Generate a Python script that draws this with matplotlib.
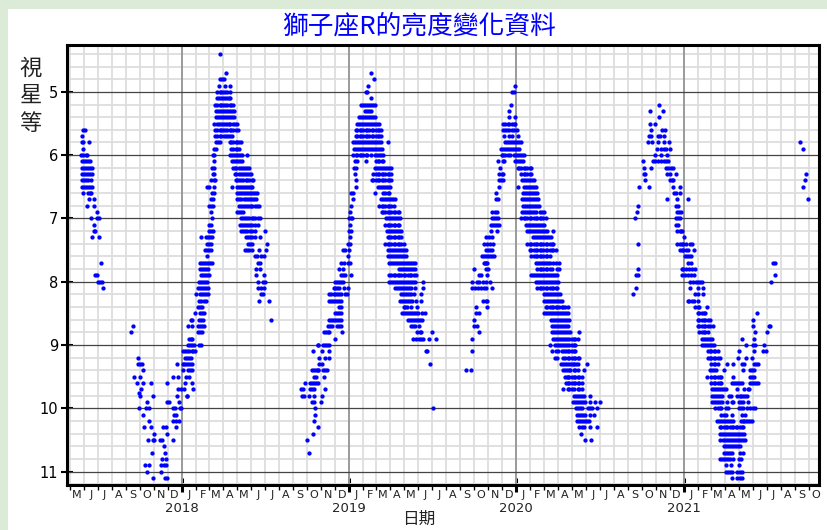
import numpy as np
import matplotlib
matplotlib.use('Agg')
import matplotlib.pyplot as plt
import matplotlib.dates as mdates
from matplotlib.patches import Rectangle
from matplotlib.ticker import MultipleLocator, NullFormatter

# ---------------- data: (magnitude, [days since 2017-01-01]) ----------------
EPOCH = np.datetime64('2017-01-01')

cycle_2017 = [
    (5.6, [149, 153]), (5.7, [147]), (5.8, [147, 150, 162]), (5.9, [149]),
    (6.0, [145, 150, 155, 158]), (6.1, [147, 151, 155, 160, 164]),
    (6.2, [147, 151, 155, 160, 164, 169]), (6.3, [147, 151, 155, 160, 164, 169]),
    (6.4, [147, 151, 155, 160, 167]), (6.5, [147, 151, 155, 160, 164, 169]),
    (6.6, [150, 160, 164, 167]), (6.7, [163, 172]), (6.8, [157, 173]), (6.9, [179]),
    (7.0, [166, 179, 183]), (7.1, [172]), (7.2, [172, 176]), (7.3, [169, 184]),
    (7.7, [188]), (7.9, [176, 180]), (8.0, [182, 186, 190]), (8.1, [193]),
]

cycle_2018 = [
    # late-2017 minimum, fading side
    (8.7, [259]), (8.8, [253]), (9.2, [270]), (9.3, [268, 273, 278]), (9.4, [281]),
    (9.5, [260, 273]), (9.6, [266, 281, 297]), (9.7, [275]), (9.75, [271]),
    (9.8, [273, 301]), (9.9, [288]), (10.0, [272, 286, 292]), (10.1, [279]),
    (10.2, [294]), (10.3, [282, 298]), (10.4, [304]), (10.5, [291, 301, 304]),
    (10.7, [300]), (10.9, [285, 294]), (11.0, [289]), (11.1, [301]),
    # rising side
    (9.6, [332]), (9.5, [345, 356]), (9.3, [355, 367]), (9.4, [368]),
    (9.7, [356, 362, 370]), (9.8, [355, 375]), (9.9, [333, 337, 359]),
    (10.0, [345, 349, 361, 364]), (10.1, [348, 352]), (10.2, [346, 352, 359]),
    (10.3, [323, 330, 352]), (10.4, [333]), (10.5, [316, 321, 345]), (10.6, [326]),
    (10.7, [327]), (10.8, [321, 330]), (10.9, [320, 326, 330]), (11.0, [319]),
    (11.1, [329, 333]),
    (9.1, [368, 372, 377, 381, 386, 390, 394]), (9.2, [371, 375, 380, 384]),
    (9.3, [370, 374, 378, 383, 387]), (9.4, [378, 383, 387]), (9.5, [374, 380]),
    (9.6, [371, 386]), (9.7, [390]), (9.8, [375]),
    (9.0, [378, 383, 387, 391, 403, 407]), (8.9, [380, 384, 388]),
    (8.8, [400, 404, 409]), (8.7, [378, 388, 400, 404, 409, 413]),
    (8.6, [384, 388, 403, 407, 412]), (8.5, [393, 404, 409, 413]),
    (8.4, [400, 404, 409]), (8.3, [403, 407, 413, 418]),
    (8.2, [396, 404, 409, 413, 418, 422]), (8.1, [400, 404, 409, 413, 418, 422]),
    (8.0, [403, 407, 412, 416, 420]), (7.9, [406, 410, 415, 419, 423]),
    (7.8, [404, 409, 413, 418, 422]), (7.7, [404, 409, 413, 418, 422, 426, 431]),
    (7.6, [420]), (7.5, [415, 420, 425, 429]), (7.4, [420, 425, 429]),
    (7.3, [406, 418, 422, 426, 431]), (7.2, [423, 428, 432]), (7.1, [425, 429]),
    (7.0, [431]), (6.9, [428]), (6.8, [423, 428, 432]), (6.7, [429, 432]),
    (6.6, [431, 435]), (6.5, [420, 425, 435]), (6.4, [429, 434, 438]),
    (6.3, [432, 436]), (6.2, [431, 435]), (6.1, [436]), (6.0, [432, 436]),
    (5.9, [436, 439]), (5.8, [439, 444, 448]),
    # maximum and decline
    (5.7, [438, 442, 447, 451, 457, 461, 466, 470, 474]),
    (5.6, [438, 442, 447, 451, 455, 460, 464, 469, 473, 477, 482, 487]),
    (5.5, [436, 441, 445, 450, 454, 458, 463, 467, 471, 476, 480, 485]),
    (5.4, [439, 444, 448, 453, 457, 461, 466, 470, 474, 479]),
    (5.3, [439, 444, 448, 453, 457, 461, 466, 470, 474, 479]),
    (5.2, [438, 442, 447, 451, 455, 460, 464, 469, 473, 477]),
    (5.1, [441, 445, 450, 454, 458, 463, 467, 471]),
    (5.0, [442, 447, 451, 455, 460, 464, 469]),
    (4.9, [445, 460, 469]), (4.8, [448, 453, 457]), (4.7, [461]), (4.4, [447]),
    (5.8, [469, 473, 477, 482, 486, 490, 493]), (5.9, [473, 477, 482, 486, 490]),
    (6.0, [470, 474, 479, 483, 487, 492, 496, 508]),
    (6.1, [474, 479, 483, 487, 492, 496]),
    (6.2, [476, 480, 484, 489, 493, 498, 502, 506, 511]),
    (6.3, [480, 484, 489, 493, 498, 502, 506, 511, 515]),
    (6.4, [482, 486, 490, 495, 499, 504, 508, 512, 517, 521]),
    (6.5, [474, 485, 489, 493, 498, 502, 506, 511, 515, 519]),
    (6.6, [486, 490, 495, 499, 503, 508, 512, 516, 521, 524, 528]),
    (6.7, [486, 490, 495, 500, 505, 509, 514, 518, 522, 527]),
    (6.8, [489, 493, 498, 502, 506, 511, 515, 519, 524, 528, 534]),
    (6.9, [486, 490, 495, 499]),
    (7.0, [493, 498, 502, 508, 512, 517, 521, 525, 530, 535]),
    (7.1, [492, 496, 501, 505, 509, 514, 519, 525, 530]),
    (7.2, [493, 498, 502, 506, 514, 519, 524, 546]),
    (7.3, [505, 509, 514, 519, 525, 535]), (7.4, [509, 514, 519, 550]),
    (7.5, [503, 508, 512, 517, 533, 549]), (7.6, [524, 528, 537, 544]),
    (7.7, [530, 535]), (7.8, [527, 535]), (7.9, [527, 544]), (8.0, [530, 541, 546]),
    (8.1, [530, 538, 544]), (8.2, [538, 543]), (8.3, [534, 556]), (8.6, [560]),
]

cycle_2019 = [
    # late-2018 minimum
    (9.0, [661]), (9.1, [651]), (9.2, [665]), (9.4, [649, 653, 658, 662]),
    (9.5, [653, 658]), (9.6, [633, 645, 649, 653, 658]),
    (9.7, [624, 629, 645, 649, 653]), (9.8, [627, 632, 642, 653]), (9.9, [649, 653]),
    (10.0, [656]), (10.1, [655]), (10.2, [653]), (10.3, [661]), (10.4, [652]),
    (10.5, [639]), (10.7, [643]),
    # rise
    (9.9, [668]), (9.8, [670]), (9.7, [677]), (9.6, [661]), (9.5, [675]),
    (9.4, [662, 672, 677, 681]), (9.3, [665, 670]), (9.2, [677, 686]), (9.1, [670, 687]),
    (9.0, [661, 672, 677, 681, 686]), (8.9, [700]), (8.8, [675, 680, 684, 687, 715]),
    (8.7, [684, 688, 693, 703, 707, 712]), (8.6, [686, 690, 694, 699, 703, 707, 712]),
    (8.5, [699, 703, 707, 712]), (8.4, [709, 713]),
    (8.3, [686, 690, 694, 699, 703, 707, 713]),
    (8.2, [687, 691, 696, 700, 704, 709, 713, 721, 725]),
    (8.1, [696, 700, 704, 709, 718, 728]), (8.0, [699, 703, 707, 712, 716]),
    (7.9, [712, 716, 721, 734]), (7.8, [709, 716]), (7.7, [713, 718, 732]),
    # maximum
    (4.7, [777]), (4.8, [785]), (4.9, [771]), (5.0, [766, 770]), (5.1, [777]),
    (5.2, [755, 760, 764, 769, 773, 777, 782, 786]), (5.3, [764, 769, 773, 777]),
    (5.4, [751, 755, 760, 764, 769, 773, 777, 782, 786]),
    (5.5, [747, 751, 755, 760, 764, 769, 773, 777, 782, 786, 790, 795]),
    (5.6, [744, 748, 753, 757, 761, 766, 770, 774, 779, 783, 788, 792, 796, 799]),
    (5.7, [744, 748, 753, 757, 761, 766, 770, 774, 779, 783, 788, 792, 796, 799]),
    (5.8, [738, 742, 747, 751, 755, 760, 764, 769, 773, 777, 782, 786, 790, 795, 799, 814]),
    (5.9, [741, 745, 750, 754, 758, 763, 767, 771, 776, 780, 785, 789, 793, 798, 802]),
    (6.0, [739, 744, 748, 753, 757, 761, 766, 770, 777, 786, 790, 795, 799, 804]),
    (6.1, [742, 747, 767, 788, 792, 796, 801, 805]),
    (6.2, [741, 745, 786, 790, 795, 799, 804, 808, 812, 817, 821]),
    (6.3, [742, 783, 788, 792, 796, 801, 805, 809, 814, 818, 822]),
    (6.4, [744, 779, 783, 788, 792, 796, 801, 805, 809, 814, 818, 822]),
    (6.5, [745, 793, 798, 802, 806, 811, 815, 820]),
    (6.6, [735, 738, 786, 805, 809, 814, 818]),
    (6.7, [738, 799, 804, 808, 812, 817, 821, 825, 830]),
    (6.8, [734, 796, 801, 805, 809, 814, 818, 822, 827]),
    (6.9, [732, 801, 805, 809, 814, 818, 822, 827, 831, 836, 840]),
    (7.0, [729, 734, 737, 811, 815, 820, 824, 828, 833, 837, 841]),
    (7.1, [732, 809, 814, 818, 822, 827, 831, 836, 840]),
    (7.2, [729, 734, 812, 816, 821, 825, 830, 834, 838, 843]),
    (7.3, [731, 814, 818, 822, 827, 831, 836, 840, 844]),
    (7.4, [728, 732, 809, 814, 818, 822, 827, 831, 836, 840, 844, 849]),
    (7.5, [716, 721, 729, 815, 820, 824, 828, 833, 837, 841, 846, 850, 855]),
    (7.6, [728, 815, 820, 824, 828, 833, 837, 841, 846, 850, 855]),
    (7.7, [728, 817, 821, 825, 830, 834, 838, 843, 847, 852, 856, 860, 865, 869, 873]),
    # decline
    (7.8, [838, 843, 847, 852, 856, 860, 865, 869, 873]),
    (7.9, [818, 822, 827, 831, 836, 840, 844, 849, 853, 858, 862, 866, 871, 875]),
    (8.0, [817, 821, 825, 830, 834, 838, 843, 847, 852, 856, 860, 865, 869, 873, 891]),
    (8.1, [830, 834, 838, 843, 847, 852, 856, 860, 865, 873, 891]),
    (8.2, [843, 847, 852, 856, 860, 865, 872, 886]),
    (8.3, [841, 846, 850, 854, 859, 863, 868, 876, 886]),
    (8.4, [849, 853, 857, 866, 879]),
    (8.5, [846, 850, 854, 859, 863, 868, 872, 876, 881, 889, 895]),
    (8.6, [859, 863, 868, 872, 876, 881, 885, 889]),
    (8.7, [865, 869, 873, 882]), (8.8, [879, 884, 888, 911]),
    (8.9, [870, 875, 882, 886, 892, 904, 920]),
    (9.1, [897, 901]), (9.3, [907]), (10.0, [914]),
]

cycle_2020 = [
    # rise
    (9.4, [986, 997]), (9.1, [999]), (8.9, [999]), (8.8, [1013]), (8.7, [1003, 1009]),
    (8.6, [1002]), (8.5, [1007, 1013]), (8.4, [1006, 1031]), (8.3, [1023, 1028, 1032]),
    (8.1, [999, 1004, 1012, 1018, 1025, 1028, 1042]),
    (8.0, [999, 1009, 1013, 1022, 1029, 1038]), (7.9, [1013, 1018, 1032]),
    (7.8, [1003, 1028, 1034]),
    # maximum
    (4.9, [1092]), (5.0, [1086, 1090]), (5.2, [1083]), (5.3, [1080]), (5.4, [1080, 1093]),
    (5.5, [1067, 1071, 1076, 1080, 1085, 1089, 1093]),
    (5.6, [1066, 1070, 1074, 1079, 1085, 1090, 1096]),
    (5.7, [1068, 1080, 1086, 1098]),
    (5.8, [1070, 1074, 1079, 1083, 1087, 1092, 1096, 1101, 1105]),
    (5.9, [1061, 1066, 1070, 1074, 1079, 1083, 1087, 1092, 1096, 1101]),
    (6.0, [1063, 1067, 1071, 1076, 1082, 1090, 1095, 1099, 1103, 1108, 1112]),
    (6.1, [1055, 1066, 1068, 1093, 1096, 1101, 1105, 1109]),
    (6.2, [1060, 1098, 1102, 1106, 1111, 1115, 1119, 1124, 1127]),
    (6.3, [1058, 1063, 1067, 1106, 1111, 1115, 1119, 1124, 1128]),
    (6.4, [1057, 1061, 1066, 1108, 1112, 1117, 1121, 1125, 1130, 1134]),
    (6.5, [1058, 1098, 1112, 1117, 1121, 1125, 1130, 1134, 1138]),
    (6.6, [1050, 1109, 1114, 1118, 1122, 1127, 1131, 1135, 1140]),
    (6.7, [1051, 1055, 1108, 1112, 1117, 1121, 1125, 1130, 1134, 1138, 1143]),
    (6.8, [1109, 1114, 1118, 1122, 1127, 1131, 1135, 1140, 1144]),
    (6.9, [1042, 1048, 1052, 1108, 1112, 1117, 1121, 1125, 1130, 1134, 1138, 1147, 1151, 1156]),
    (7.0, [1042, 1047, 1051, 1055, 1106, 1111, 1115, 1119, 1124, 1128, 1133, 1137, 1141,
           1146, 1150, 1154, 1159]),
    (7.1, [1039, 1044, 1048, 1052, 1057, 1117, 1121, 1125, 1130, 1134, 1138, 1143, 1147,
           1151, 1156]),
    (7.2, [1039, 1054, 1118, 1122, 1127, 1131, 1135, 1140, 1144, 1149, 1153, 1157, 1163, 1175]),
    (7.3, [1029, 1036, 1041, 1131, 1135, 1140, 1144, 1149, 1153, 1157, 1162, 1166, 1170]),
    (7.4, [1025, 1031, 1038, 1044, 1119, 1124, 1128, 1133, 1137, 1141, 1146, 1150, 1154,
           1159, 1163, 1168, 1172, 1176]),
    (7.5, [1029, 1034, 1038, 1042, 1124, 1128, 1133, 1137, 1141, 1146, 1150, 1154, 1159,
           1163, 1168, 1172, 1176, 1181]),
    (7.6, [1020, 1025, 1029, 1034, 1038, 1042, 1047, 1128, 1133, 1137, 1141, 1146, 1150,
           1154, 1159, 1163, 1168]),
    (7.7, [1025, 1026, 1028, 1031, 1138, 1143, 1147, 1151, 1156, 1160, 1165, 1169, 1176,
           1182, 1188]),
    # decline
    (7.8, [1141, 1146, 1150, 1154, 1159, 1163, 1168, 1172, 1184, 1188]),
    (7.9, [1127, 1131, 1135, 1140, 1144, 1149, 1153, 1157, 1162, 1166, 1170, 1175, 1179, 1184]),
    (8.0, [1138, 1143, 1147, 1151, 1156, 1160, 1165, 1169, 1173, 1178, 1182, 1186]),
    (8.1, [1141, 1146, 1150, 1154, 1159, 1163, 1168, 1172, 1176, 1181, 1185]),
    (8.2, [1156, 1160, 1165, 1169, 1173, 1178, 1182, 1186, 1191]),
    (8.3, [1156, 1160, 1165, 1169, 1173, 1178, 1182, 1186, 1191, 1195]),
    (8.4, [1159, 1163, 1168, 1172, 1176, 1181, 1185, 1189, 1194, 1198, 1202, 1207]),
    (8.5, [1156, 1160, 1165, 1169, 1173, 1178, 1182, 1186, 1191, 1195, 1200, 1204, 1208]),
    (8.6, [1170, 1175, 1179, 1184, 1188, 1192, 1197, 1201, 1205, 1210]),
    (8.7, [1173, 1178, 1182, 1186, 1191, 1195, 1200, 1204, 1208]),
    (8.8, [1173, 1178, 1182, 1186, 1191, 1195, 1200, 1204, 1208, 1213, 1233]),
    (8.9, [1175, 1179, 1184, 1188, 1192, 1197, 1201, 1205, 1210, 1216, 1220, 1224, 1229]),
    (9.0, [1169, 1179, 1184, 1188, 1192, 1197, 1201, 1205, 1211, 1216, 1220, 1224]),
    (9.1, [1173, 1182, 1186, 1195, 1200, 1204, 1208, 1211, 1216, 1220, 1224]),
    (9.2, [1179, 1184, 1198, 1202, 1207, 1211, 1216, 1220, 1224, 1229, 1233]),
    (9.3, [1192, 1197, 1201, 1205, 1210, 1214, 1218, 1222, 1226, 1229, 1249]),
    (9.4, [1197, 1201, 1205, 1210, 1213, 1220, 1224, 1229, 1242]),
    (9.5, [1201, 1205, 1208, 1211, 1216, 1220, 1224, 1229, 1233, 1238]),
    (9.6, [1204, 1208, 1211, 1216, 1220, 1224, 1229, 1233, 1238]),
    (9.7, [1197, 1208, 1211, 1216, 1220, 1229, 1233, 1239]),
    (9.8, [1221, 1226, 1230, 1235, 1239, 1243, 1256]),
    (9.9, [1219, 1223, 1227, 1232, 1236, 1240, 1245, 1255, 1267, 1277]),
    (10.0, [1226, 1230, 1235, 1239, 1252, 1256, 1261, 1271]),
    (10.1, [1227, 1232, 1236, 1240, 1245, 1255, 1265]),
    (10.2, [1227, 1232, 1236, 1240, 1245, 1249, 1254]),
    (10.3, [1233, 1238, 1242, 1255, 1271]), (10.4, [1236]), (10.5, [1246, 1258]),
]

cycle_2021 = [
    # rise
    (8.2, [1350]), (8.1, [1357]), (7.9, [1357, 1360]), (7.8, [1361]),
    (7.4, [1361]), (7.0, [1355]), (6.9, [1358]), (6.8, [1361]), (6.5, [1363, 1385]),
    # maximum
    (5.2, [1406]), (5.3, [1386, 1416]), (5.4, [1406]), (5.5, [1386, 1398]),
    (5.6, [1390, 1414, 1419]), (5.7, [1385, 1389, 1405, 1409, 1418]),
    (5.8, [1382, 1392, 1404, 1418, 1428]), (5.9, [1402, 1412, 1417, 1421, 1430]),
    (6.0, [1398, 1412, 1425]),
    (6.1, [1371, 1393, 1398, 1405, 1412, 1417, 1422, 1427]),
    (6.2, [1374, 1389, 1422, 1427, 1433, 1438]), (6.3, [1373, 1376, 1425, 1430, 1443]),
    (6.4, [1376, 1430, 1434, 1438]), (6.5, [1437, 1452]), (6.6, [1440, 1444, 1452]),
    (6.7, [1425, 1447, 1469]), (6.8, [1444, 1449]), (6.9, [1446, 1450, 1454]),
    (7.0, [1444, 1449, 1453]), (7.1, [1444, 1449]), (7.2, [1447, 1452, 1454, 1457]),
    (7.3, [1462]), (7.4, [1447, 1452, 1456, 1460, 1466, 1475, 1479]),
    (7.5, [1452, 1456, 1460, 1465, 1469, 1482]), (7.6, [1463, 1468, 1472, 1476]),
    # decline and minimum
    (7.7, [1469, 1476]), (7.8, [1456, 1460, 1466, 1473, 1479, 1485]),
    (7.9, [1456, 1463, 1469, 1476, 1482]), (8.0, [1475, 1481, 1488, 1492, 1497, 1501]),
    (8.1, [1475, 1491, 1503]), (8.2, [1486, 1491, 1503]),
    (8.3, [1469, 1473, 1478, 1482, 1491]), (8.4, [1486, 1491, 1495, 1511]),
    (8.5, [1491, 1495, 1500, 1504, 1508]), (8.6, [1491, 1495, 1500, 1504, 1508, 1513, 1517]),
    (8.7, [1491, 1495, 1500, 1504, 1508, 1513, 1517, 1524]),
    (8.8, [1495, 1500, 1504, 1508, 1513]), (8.9, [1501, 1505, 1510, 1514, 1519, 1523]),
    (9.0, [1501, 1505, 1510, 1514, 1519, 1523, 1527]),
    (9.1, [1513, 1517, 1521, 1526, 1530, 1535]),
    (9.2, [1513, 1517, 1521, 1526, 1530, 1535, 1539]),
    (9.3, [1521, 1526, 1530, 1535]), (9.4, [1519, 1523, 1527, 1532]),
    (9.5, [1511, 1521, 1526, 1530, 1535, 1539, 1543]),
    (9.6, [1521, 1526, 1530, 1535, 1539, 1543]),
    (9.7, [1523, 1527, 1532, 1536, 1540, 1545, 1549, 1553]),
    (9.8, [1523, 1527, 1532, 1536, 1540, 1545, 1559, 1564, 1578, 1583]),
    (9.9, [1523, 1527, 1532, 1536, 1540, 1545, 1556, 1565, 1568]),
    (10.0, [1530, 1535, 1539, 1543, 1553, 1558, 1581, 1585]),
    (10.1, [1543, 1549, 1553, 1565]),
    (10.2, [1533, 1537, 1542, 1546, 1551, 1555, 1559, 1564, 1568, 1585, 1590]),
    (10.3, [1539, 1543, 1548, 1552, 1556, 1561, 1565, 1569, 1574, 1578, 1583, 1587, 1591]),
    (10.4, [1540, 1545, 1549, 1553, 1558, 1562, 1567, 1571, 1575, 1580, 1584, 1588, 1593]),
    (10.5, [1539, 1546, 1551, 1555, 1559, 1564, 1568, 1572, 1577, 1581, 1585, 1590, 1594]),
    (10.6, [1549, 1553, 1558, 1562, 1567, 1571, 1575, 1580, 1584]),
    (10.7, [1549, 1553, 1558, 1562, 1567, 1583, 1591]),
    (10.8, [1540, 1545, 1549, 1553, 1558, 1562, 1568, 1581, 1585]),
    (10.9, [1553, 1564, 1581]), (11.0, [1553, 1558, 1562, 1567, 1578, 1583, 1587]),
    (11.1, [1565, 1578, 1583, 1587]),
    # recovery
    (10.2, [1593, 1597, 1602, 1606, 1610]), (10.1, [1587, 1594]),
    (10.0, [1591, 1599, 1606, 1612, 1616]), (9.9, [1581, 1585, 1590, 1600]),
    (9.8, [1585, 1590, 1594, 1599]), (9.7, [1578, 1593, 1600, 1604]),
    (9.6, [1567, 1571, 1575, 1580, 1584, 1588, 1606, 1610, 1615, 1619, 1623]),
    (9.5, [1568, 1606, 1610, 1615]), (9.4, [1549, 1591, 1606, 1610, 1615]),
    (9.3, [1555, 1569, 1587, 1593, 1615, 1619, 1623]), (9.2, [1580, 1596, 1609]),
    (9.1, [1581, 1613, 1634, 1641]), (9.0, [1597, 1612, 1616, 1636]),
    (8.9, [1588, 1615]), (8.8, [1616, 1642]), (8.7, [1612, 1647, 1650]),
    (8.6, [1612]), (8.5, [1620]), (8.0, [1651]), (7.9, [1660]), (7.7, [1655, 1660]),
    # September 2021
    (5.8, [1714]), (5.9, [1721]), (6.3, [1728]), (6.4, [1725]), (6.5, [1721]), (6.7, [1733]),
]

MONTH_LETTERS = ['J', 'F', 'M', 'A', 'M', 'J', 'J', 'A', 'S', 'O', 'N', 'D']
YEARS = [2018, 2019, 2020, 2021]
MAG_LINES = [5, 6, 7, 8, 9, 10, 11]
X_START, X_END = '2017-04-25', '2021-10-23'
Y_TOP, Y_BOTTOM = 4.26, 11.21

TITLE = '獅子座R的亮度變化資料'
YLABEL_CHARS = ['視', '星', '等']
XLABEL = '日期'


def expand(cycles):
    days, mags = [], []
    for cyc in cycles:
        for mag, ds in cyc:
            days.extend(ds)
            mags.extend([mag] * len(ds))
    return np.array(days), np.array(mags)


days, mags = expand([cycle_2017, cycle_2018, cycle_2019, cycle_2020, cycle_2021])
dates = EPOCH + days.astype('timedelta64[D]')
xnum = mdates.date2num(dates)

CJK = ['Noto Sans CJK TC', 'DejaVu Sans']
W, H = 827, 530

fig = plt.figure(figsize=(W / 100, H / 100), dpi=100)
fig.patch.set_facecolor('#dcebd8')
fig.add_artist(Rectangle((8 / W, 0), 1, (H - 9) / H, transform=fig.transFigure,
                         facecolor='white', edgecolor='none', zorder=-5))

ax = fig.add_axes([67 / W, 45 / H, 752 / W, 440 / H])
ax.set_facecolor('white')

year_nums = [mdates.date2num(np.datetime64(f'{y}-01-01')) for y in YEARS]
for xv in year_nums:
    ax.axvline(xv, color='#9a9a9a', lw=1.4, zorder=1)
for yv in MAG_LINES:
    ax.axhline(yv, color='#444444', lw=0.9, zorder=1.1)

ax.scatter(xnum, mags, s=9.5, c='#0000ff', linewidths=0, zorder=3)

ax.set_ylim(Y_BOTTOM, Y_TOP)
ax.set_xlim(mdates.date2num(np.datetime64(X_START)), mdates.date2num(np.datetime64(X_END)))

ax.yaxis.set_major_locator(MultipleLocator(1))
ax.yaxis.set_minor_locator(MultipleLocator(0.2))
ax.xaxis.set_major_locator(mdates.YearLocator())
ax.xaxis.set_minor_locator(mdates.MonthLocator())
ax.xaxis.set_major_formatter(NullFormatter())
ax.xaxis.set_minor_formatter(NullFormatter())

ax.set_axisbelow(True)
ax.grid(which='minor', color='#dddddd', lw=1.3)

for s in ax.spines.values():
    s.set_linewidth(2.2)
    s.set_color('black')

ax.tick_params(axis='y', which='major', direction='inout', length=9, width=1.5,
               labelsize=10.5, pad=2, colors='black')
ax.tick_params(axis='y', which='minor', length=0)
ax.tick_params(axis='x', which='major', direction='inout', length=10, width=2.2)
ax.tick_params(axis='x', which='minor', direction='out', length=3.5, width=1)

trans = ax.get_xaxis_transform()
# month initials at mid-month
m = np.datetime64('2017-05')
while m <= np.datetime64('2021-10'):
    mid = mdates.date2num(m.astype('datetime64[D]') + np.timedelta64(15, 'D'))
    ax.text(mid, -10 / 440, MONTH_LETTERS[int(str(m)[5:7]) - 1], transform=trans,
            ha='center', va='center', fontsize=8, color='#222222')
    m = m + np.timedelta64(1, 'M')
for y, xv in zip(YEARS, year_nums):
    ax.text(xv, -23 / 440, str(y), transform=trans, ha='center', va='center',
            fontsize=9.5, color='#222222')

fig.text(419 / W, 1 - 27 / H, TITLE, ha='center', va='center', fontsize=18.5,
         color='#0000ff', family=CJK)
for i, ch in enumerate(YLABEL_CHARS):
    fig.text(30.5 / W, 1 - (68 + 27.5 * i) / H, ch, ha='center', va='center',
             fontsize=16, color='#222222', family=CJK)
fig.text(419 / W, 1 - 519 / H, XLABEL, ha='center', va='center', fontsize=12,
         color='#222222', family=CJK)

fig.savefig('out.png', dpi=100, facecolor=fig.get_facecolor())
